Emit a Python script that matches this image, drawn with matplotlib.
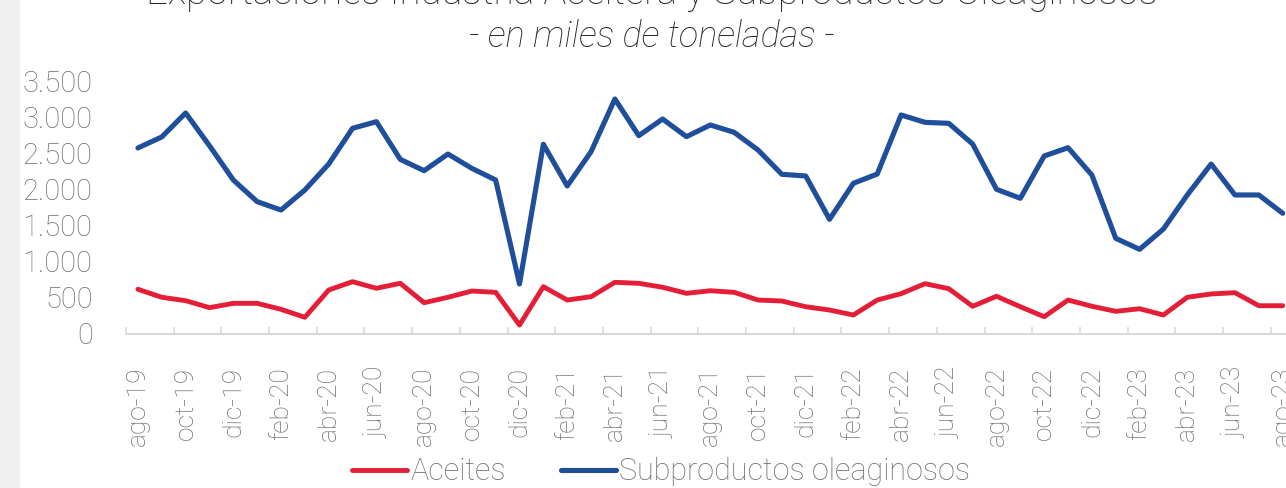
import matplotlib
matplotlib.use("Agg")
import matplotlib.pyplot as plt
from matplotlib.patches import Rectangle
from matplotlib.ticker import FuncFormatter

# monthly data, ago-19 .. ago-23 (thousand tonnes)
months = ["ago-19", "sep-19", "oct-19", "nov-19", "dic-19",
          "ene-20", "feb-20", "mar-20", "abr-20", "may-20", "jun-20", "jul-20",
          "ago-20", "sep-20", "oct-20", "nov-20", "dic-20",
          "ene-21", "feb-21", "mar-21", "abr-21", "may-21", "jun-21", "jul-21",
          "ago-21", "sep-21", "oct-21", "nov-21", "dic-21",
          "ene-22", "feb-22", "mar-22", "abr-22", "may-22", "jun-22", "jul-22",
          "ago-22", "sep-22", "oct-22", "nov-22", "dic-22",
          "ene-23", "feb-23", "mar-23", "abr-23", "may-23", "jun-23", "jul-23",
          "ago-23"]

aceites = [614, 503, 456, 359, 419, 419, 336, 225, 604, 720, 628, 697,
           428, 503, 590, 572, 118, 650, 465, 511, 711, 697, 642, 558,
           594, 572, 465, 451, 372, 326, 257, 465, 553, 692, 622, 378,
           517, 372, 233, 465, 378, 308, 344, 257, 503, 549, 567, 386,
           386]

subproductos = [2577, 2730, 3063, 2608, 2132, 1831, 1715, 1993, 2354, 2850,
                2942, 2419, 2261, 2493, 2294, 2132, 688, 2628, 2049, 2525,
                3257, 2748, 2979, 2734, 2896, 2794, 2549, 2211, 2188, 1586,
                2086, 2215, 3035, 2933, 2919, 2632, 2003, 1878, 2465, 2581,
                2201, 1322, 1169, 1451, 1924, 2354, 1924, 1924, 1670]

plt.rcParams["font.family"] = ["Roboto", "DejaVu Sans"]
plt.rcParams["font.weight"] = "light"

W, H = 1286, 488
fig = plt.figure(figsize=(W / 100, H / 100), dpi=100)

# light grey strip on the left edge of the screenshot
fig.patches.append(Rectangle((0, 0), 19 / W, 1, transform=fig.transFigure,
                             color="#f0f0f0", zorder=0))

# plot area runs past the right edge (the reference is cropped)
left, right = 126, 1294.6
bottom, top = 333.5, 81.5
ax = fig.add_axes([left / W, 1 - bottom / H, (right - left) / W, (bottom - top) / H])

x = list(range(len(months)))
ax.plot(x, aceites, color="#E41E36", lw=3.5, solid_capstyle="round",
        solid_joinstyle="round", label="Aceites", clip_on=False)
ax.plot(x, subproductos, color="#1F4E9A", lw=3.7, solid_capstyle="round",
        solid_joinstyle="round", label="Subproductos oleaginosos", clip_on=False)

ax.set_xlim(-0.5, len(months) - 0.5)
ax.set_ylim(0, 3500)
ax.set_yticks(range(0, 3501, 500))
ax.yaxis.set_major_formatter(FuncFormatter(lambda v, p: f"{int(v):,}".replace(",", ".")))

ax.set_xticks(x[::2])
ax.set_xticklabels(months[::2], rotation=90)
ax.set_xticks([i - 0.5 for i in range(0, len(months) + 1, 2)], minor=True)

for s in ["top", "right", "left"]:
    ax.spines[s].set_visible(False)
ax.spines["bottom"].set_color("#d9d9d9")
ax.spines["bottom"].set_linewidth(1.5)

ax.tick_params(axis="y", length=0, pad=24, labelsize=21, labelcolor="#6f6f6f")
ax.tick_params(axis="x", which="major", length=0, pad=24, labelsize=19, labelcolor="#6f6f6f")
ax.tick_params(axis="x", which="minor", direction="in", length=5, width=1.2, color="#d9d9d9")

leg = fig.legend(loc="center", bbox_to_anchor=(661 / W, 1 - 472 / H), ncol=2,
                 frameon=False, fontsize=22, handlelength=1.8, handletextpad=0.1,
                 columnspacing=1.8, labelcolor="#6f6f6f")

fig.text(652 / W, 1 - (-7) / H, "Exportaciones Industria Aceitera y Subproductos Oleaginosos",
         ha="center", va="center", fontsize=27.5, color="#262626")
fig.text(652 / W, 1 - 37 / H, "- en miles de toneladas -", ha="center", va="center",
         fontsize=26, style="italic", color="#262626")

fig.savefig("out.png", dpi=100)
